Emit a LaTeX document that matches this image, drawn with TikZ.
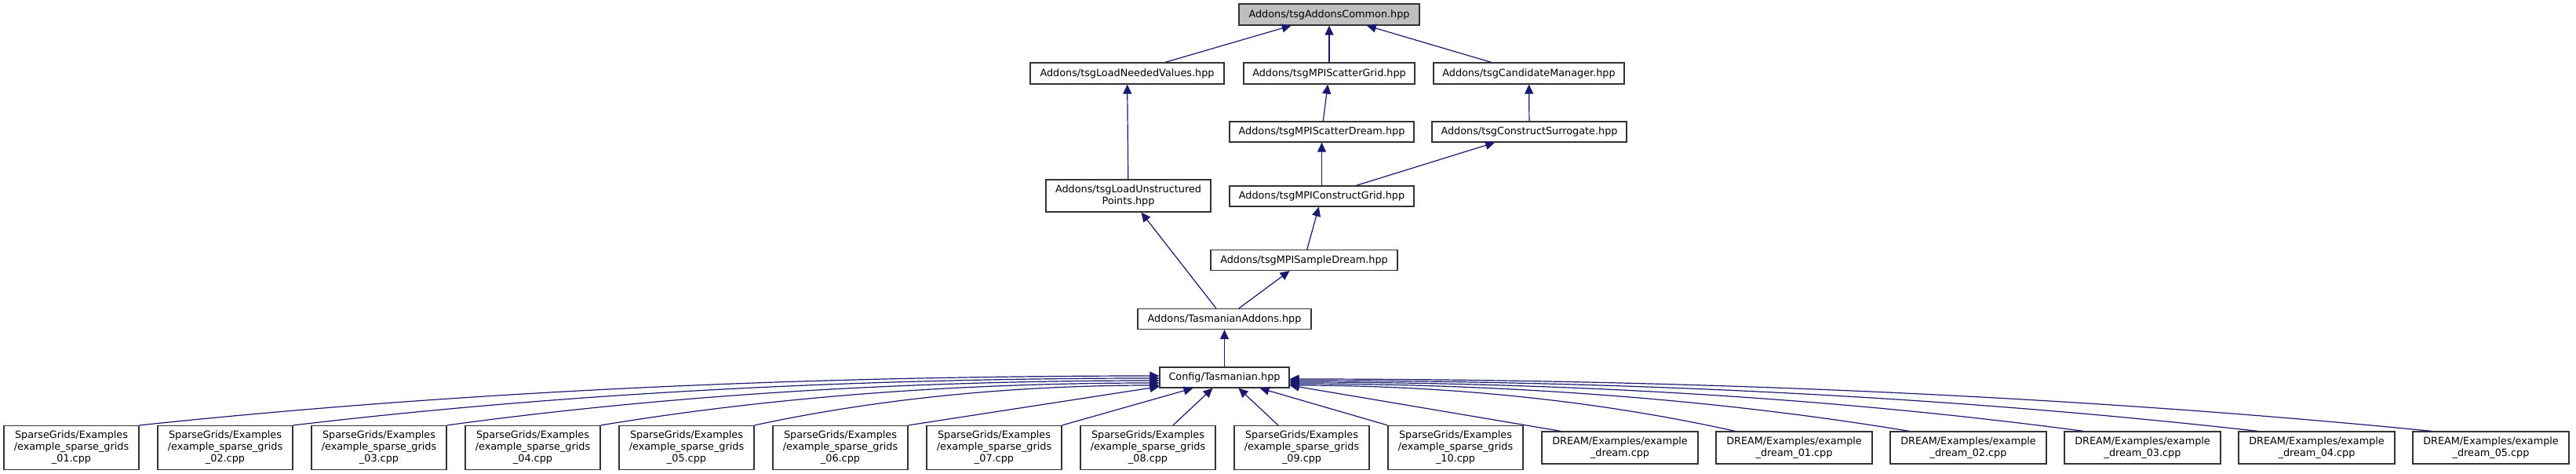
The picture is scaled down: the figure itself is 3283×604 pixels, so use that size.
\documentclass[tikz,border=0pt]{standalone}
\usepackage{fontspec}
\setmainfont{DejaVu Sans}
\usepackage{tikz}
\usetikzlibrary{arrows.meta}
\definecolor{inclblue}{HTML}{191970}
\definecolor{rootgray}{HTML}{BFBFBF}
\tikzset{
  file/.style={draw=black!80, line width=1.2pt, fill=white, align=center, inner sep=0pt, minimum height=26pt, font=\fontsize{12.8}{15}\selectfont},
  rootfile/.style={file, fill=rootgray},
  srcfile/.style={file, minimum width=172pt, minimum height=56pt},
  dreamfile/.style={file, minimum width=199pt, minimum height=41pt},
  incl/.style={draw=inclblue, line width=1.2pt, -{Triangle[length=12pt,width=11pt]}}
}

\begin{document}
\begin{tikzpicture}[x=1pt,y=-1pt]
  \useasboundingbox (0,0) rectangle (3283,604);
  \node[rootfile, minimum width=230pt, minimum height=27pt] (common) at (1694,18.5) {Addons/tsgAddonsCommon.hpp};
  \node[file, minimum width=247pt, minimum height=27pt] (lneed) at (1436.5,93.5) {Addons/tsgLoadNeededValues.hpp};
  \node[file, minimum width=218pt, minimum height=27pt] (sgrid) at (1694,93.5) {Addons/tsgMPIScatterGrid.hpp};
  \node[file, minimum width=243pt, minimum height=27pt] (cand) at (1948.5,93.5) {Addons/tsgCandidateManager.hpp};
  \node[file, minimum width=235pt] (sdream) at (1684.5,168) {Addons/tsgMPIScatterDream.hpp};
  \node[file, minimum width=248pt] (csurr) at (1949,168) {Addons/tsgConstructSurrogate.hpp};
  \node[file, minimum width=210pt, minimum height=41pt] (lunstr) at (1438,249.5) {Addons/tsgLoadUnstructured\\Points.hpp};
  \node[file, minimum width=235pt] (cgrid) at (1684.5,250) {Addons/tsgMPIConstructGrid.hpp};
  \node[file, minimum width=238pt] (sample) at (1662,331.5) {Addons/tsgMPISampleDream.hpp};
  \node[file, minimum width=221pt] (tasadd) at (1560.5,406.5) {Addons/TasmanianAddons.hpp};
  \node[file, minimum width=165pt] (cfg) at (1560.5,481) {Config/Tasmanian.hpp};
  \foreach \k/\n in {1/01,2/02,3/03,4/04,5/05,6/06,7/07,8/08,9/09,10/10}{
    \pgfmathsetmacro\cx{91+196*(\k-1)}
    \node[srcfile] (sg\k) at (\cx,570.5) {SparseGrids/Examples\\/example\_sparse\_grids\\\_\n.cpp};
  }
  \foreach \k/\n in {1/dream,2/dream\_01,3/dream\_02,4/dream\_03,5/dream\_04,6/dream\_05}{
    \pgfmathsetmacro\cx{2064.5+222*(\k-1)}
    \node[dreamfile] (dr\k) at (\cx,570.5) {DREAM/Examples/example\\\_\n.cpp};
  }

  \draw[incl] (lneed) -- (common);
  \draw[incl] (sgrid) -- (common);
  \draw[incl] (cand) -- (common);
  \draw[incl] (lunstr) -- (lneed);
  \draw[incl] (sdream) -- (sgrid);
  \draw[incl] (csurr) -- (cand);
  \draw[incl] (cgrid) -- (sdream);
  \draw[incl] (cgrid) -- (csurr);
  \draw[incl] (sample) -- (cgrid);
  \draw[incl] (tasadd) -- (lunstr);
  \draw[incl] (tasadd) -- (sample);
  \draw[incl] (cfg) -- (tasadd);

  \foreach \k/\e in {1/479,2/482,3/485,4/488,5/491}{
    \pgfmathsetmacro\dx{1478-(177+196*(\k-1))}
    \pgfmathsetmacro\dy{543-\e}
    \pgfmathsetmacro\sh{481-\e}
    \draw[incl] (sg\k.north east) .. controls +(0.35*\dx,-0.75*\dy) and +(-0.3*\dx,0) .. ([yshift=\sh pt]cfg.west);
  }
  \draw[incl] (sg6.north east) -- ([yshift=2pt]cfg.south west);
  \draw[incl] (sg7.north east) -- ([xshift=-40pt]cfg.south);
  \draw[incl] ([xshift=32pt]sg8.north) -- ([xshift=-15pt]cfg.south);
  \draw[incl] ([xshift=-30pt]sg9.north) -- ([xshift=18pt]cfg.south);
  \draw[incl] (sg10.north west) -- ([xshift=45pt]cfg.south);
  \draw[incl] ([xshift=25pt]dr1.north west) -- ([yshift=-10pt]cfg.east);
  \foreach \k/\e in {2/491,3/489,4/487,5/485,6/483}{
    \pgfmathsetmacro\dx{1990+222*(\k-1)-1643}
    \pgfmathsetmacro\dy{550-\e}
    \pgfmathsetmacro\sh{481-\e}
    \draw[incl] ([xshift=25pt]dr\k.north west) .. controls +(-0.35*\dx,-0.75*\dy) and +(0.3*\dx,0) .. ([yshift=\sh pt]cfg.east);
  }
\end{tikzpicture}
\end{document}
